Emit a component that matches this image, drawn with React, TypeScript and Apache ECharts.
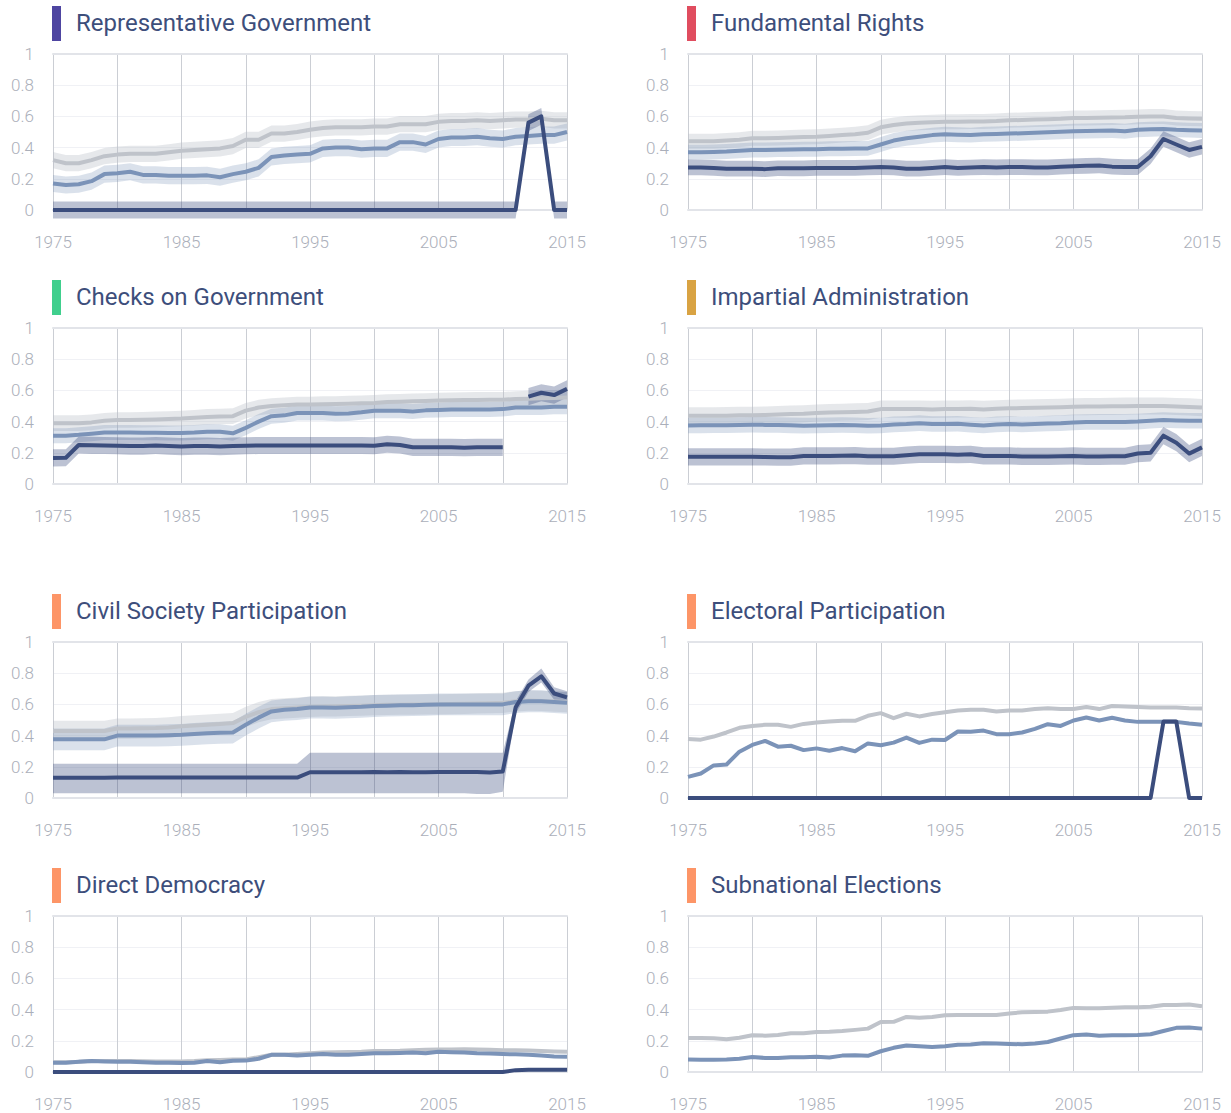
import React, { useEffect, useRef } from "react";
import * as echarts from "echarts";

const years: number[] = [];
for (let y = 1975; y <= 2015; y++) years.push(y);

const xTickLabels = ["1975", "1985", "1995", "2005", "2015"];

// Representative Government
const repGovGrey = [.32,.30,.30,.32,.345,.355,.36,.36,.36,.37,.38,.385,.39,.395,.41,.45,.45,.49,.49,.50,.515,.525,.53,.53,.53,.535,.535,.55,.55,.55,.565,.57,.57,.575,.57,.575,.58,.58,.585,.575,.575];
const repGovMed = [.17,.16,.165,.185,.23,.235,.245,.225,.225,.22,.22,.22,.222,.21,.23,.245,.27,.34,.35,.355,.36,.395,.40,.40,.39,.395,.395,.435,.435,.42,.455,.465,.465,.47,.46,.455,.47,.475,.48,.48,.50];
const repGovDark = [0,0,0,0,0,0,0,0,0,0,0,0,0,0,0,0,0,0,0,0,0,0,0,0,0,0,0,0,0,0,0,0,0,0,0,0,0,.56,.60,0,0];
const repGovErr = [.052, .055, .054];

// Fundamental Rights
const fundGrey = [.44,.44,.44,.445,.45,.46,.46,.462,.465,.468,.47,.475,.48,.485,.495,.53,.545,.555,.56,.562,.565,.566,.567,.568,.57,.575,.577,.58,.582,.585,.59,.59,.592,.593,.594,.597,.60,.60,.59,.587,.585];
const fundMed = [.37,.37,.372,.375,.38,.385,.385,.387,.388,.39,.39,.392,.393,.394,.395,.42,.445,.46,.47,.48,.485,.483,.48,.485,.487,.49,.492,.495,.498,.502,.505,.507,.508,.51,.505,.515,.518,.52,.515,.512,.51];
const fundDark = [.273,.272,.27,.265,.265,.265,.262,.268,.267,.267,.27,.27,.27,.27,.272,.275,.272,.265,.265,.27,.275,.27,.272,.275,.273,.275,.275,.273,.273,.277,.28,.283,.285,.278,.275,.275,.345,.455,.42,.385,.405];
const fundErr = [.048, .048, .05];

// Checks on Government
const checksGrey = [.39,.39,.39,.395,.405,.41,.41,.412,.414,.417,.42,.425,.43,.433,.435,.47,.49,.50,.505,.51,.51,.512,.513,.515,.517,.52,.525,.527,.53,.532,.535,.537,.538,.539,.54,.54,.545,.547,.55,.552,.555];
const checksMed = [.31,.31,.315,.322,.33,.33,.33,.328,.328,.327,.327,.33,.335,.335,.325,.36,.40,.435,.44,.455,.455,.455,.45,.452,.46,.47,.47,.47,.465,.472,.475,.477,.478,.478,.478,.48,.49,.49,.49,.495,.495];
const checksDark = [.167,.168,.25,.248,.247,.245,.243,.243,.247,.243,.24,.243,.243,.24,.243,.245,.247,.247,.247,.247,.247,.247,.247,.247,.247,.245,.255,.25,.235,.235,.235,.235,.233,.235,.235,.235,null,.56,.585,.57,.61];
const checksErr = [.05, .048, .055];

// Impartial Administration
const impGrey = [.437,.437,.437,.438,.44,.44,.442,.445,.448,.45,.455,.458,.46,.462,.465,.48,.48,.48,.48,.478,.48,.481,.482,.478,.482,.485,.487,.489,.49,.492,.495,.496,.497,.498,.499,.50,.50,.50,.497,.494,.49];
const impMed = [.375,.376,.377,.377,.378,.38,.379,.378,.376,.374,.375,.377,.378,.377,.373,.375,.382,.385,.39,.385,.385,.386,.38,.375,.382,.385,.382,.385,.388,.39,.395,.397,.398,.398,.398,.40,.405,.41,.407,.405,.405];
const impDark = [.174,.174,.174,.174,.174,.174,.173,.172,.172,.18,.18,.18,.181,.182,.178,.178,.178,.185,.19,.19,.19,.188,.19,.18,.18,.18,.177,.177,.177,.178,.18,.177,.177,.178,.178,.195,.20,.31,.265,.195,.235];
const impErr = [.055, .05, .055];

// Civil Society Participation
const civGrey = [.43,.43,.43,.43,.43,.445,.445,.447,.448,.452,.46,.465,.47,.475,.48,.52,.55,.57,.575,.58,.585,.587,.588,.59,.592,.595,.597,.598,.599,.60,.60,.602,.604,.606,.608,.61,.62,.625,.622,.618,.615];
const civMed = [.376,.376,.376,.376,.376,.40,.40,.40,.40,.402,.405,.41,.415,.418,.42,.47,.515,.555,.565,.57,.58,.58,.578,.582,.585,.59,.592,.594,.595,.597,.60,.60,.60,.60,.60,.60,.615,.62,.62,.615,.61];
const civDark = [.13,.13,.13,.13,.13,.132,.132,.132,.132,.132,.132,.131,.131,.131,.132,.132,.132,.131,.131,.131,.165,.165,.165,.165,.165,.166,.165,.166,.165,.165,.166,.166,.166,.166,.163,.17,.58,.72,.78,.67,.645];
const civDarkLo = [.03,.03,.03,.03,.03,.03,.03,.03,.03,.03,.03,.03,.03,.03,.03,.03,.03,.03,.03,.03,.03,.03,.03,.03,.03,.03,.03,.03,.03,.03,.03,.03,.03,.025,.025,.04,.54,.68,.74,.63,.605];
const civDarkHi = [.22,.22,.22,.22,.22,.22,.22,.22,.22,.22,.22,.22,.22,.22,.22,.22,.22,.22,.22,.22,.29,.29,.29,.29,.29,.29,.29,.29,.29,.29,.29,.29,.29,.29,.29,.29,.62,.76,.83,.71,.685];
const civErr = [.065, .07];

// Electoral Participation
const elecGrey = [.378,.374,.394,.42,.45,.462,.469,.469,.456,.475,.484,.49,.495,.495,.527,.544,.512,.54,.523,.538,.55,.561,.565,.565,.555,.561,.561,.57,.575,.57,.57,.583,.57,.59,.587,.583,.58,.58,.58,.575,.573];
const elecMed = [.135,.157,.209,.215,.297,.34,.366,.329,.335,.307,.318,.303,.32,.30,.35,.338,.355,.387,.353,.374,.372,.426,.424,.432,.409,.409,.42,.443,.473,.462,.497,.516,.497,.514,.497,.488,.488,.488,.488,.477,.47];
const elecDark = [0,0,0,0,0,0,0,0,0,0,0,0,0,0,0,0,0,0,0,0,0,0,0,0,0,0,0,0,0,0,0,0,0,0,0,0,0,.49,.49,0,0];

// Direct Democracy
const directGrey = [.062,.062,.065,.07,.07,.07,.07,.069,.068,.068,.067,.07,.075,.077,.08,.08,.095,.11,.11,.115,.12,.125,.127,.128,.13,.135,.135,.136,.14,.142,.145,.145,.146,.145,.143,.14,.14,.138,.135,.132,.13];
const directMed = [.06,.06,.065,.07,.068,.065,.065,.062,.06,.06,.058,.06,.07,.062,.072,.073,.085,.11,.11,.105,.11,.115,.11,.11,.115,.12,.12,.122,.125,.12,.13,.127,.125,.12,.118,.115,.113,.11,.105,.10,.098];
const directDark = [0,0,0,0,0,0,0,0,0,0,0,0,0,0,0,0,0,0,0,0,0,0,0,0,0,0,0,0,0,0,0,0,0,0,0,0,.012,.015,.015,.015,.015];

// Subnational Elections
const subGrey = [.218,.218,.217,.21,.22,.236,.233,.237,.248,.248,.257,.258,.263,.27,.278,.32,.322,.353,.348,.352,.364,.366,.365,.366,.366,.375,.383,.385,.387,.398,.411,.408,.408,.412,.415,.415,.418,.43,.43,.432,.422];
const subMed = [.08,.079,.079,.08,.085,.096,.09,.09,.094,.095,.097,.093,.105,.107,.104,.133,.155,.17,.165,.16,.165,.175,.176,.185,.183,.18,.178,.183,.192,.215,.236,.24,.232,.235,.235,.237,.242,.263,.283,.285,.278];

const GREY = "#bfc3ca";
const GREY_BAND = "rgba(185,190,199,0.36)";
const MED = "#7b93b8";
const MED_BAND = "rgba(123,147,184,0.28)";
const DARK = "#3b4d7d";
const DARK_BAND = "rgba(59,77,125,0.34)";

type Band = { lo: (number | null)[]; hi: (number | null)[]; color: string };
type Panel = {
  title: string;
  accent: string;
  lines: { data: (number | null)[]; color: string }[];
  bands: Band[];
};

const sym = (mid: (number | null)[], e: number, color: string): Band => ({
  lo: mid.map((v) => (v == null ? null : v - e)),
  hi: mid.map((v) => (v == null ? null : v + e)),
  color,
});

const panels: Panel[] = [
  {
    title: "Representative Government", accent: "#4e45a1",
    lines: [{ data: repGovGrey, color: GREY }, { data: repGovMed, color: MED }, { data: repGovDark, color: DARK }],
    bands: [sym(repGovGrey, repGovErr[0], GREY_BAND), sym(repGovMed, repGovErr[1], MED_BAND), sym(repGovDark, repGovErr[2], DARK_BAND)],
  },
  {
    title: "Fundamental Rights", accent: "#e04d5f",
    lines: [{ data: fundGrey, color: GREY }, { data: fundMed, color: MED }, { data: fundDark, color: DARK }],
    bands: [sym(fundGrey, fundErr[0], GREY_BAND), sym(fundMed, fundErr[1], MED_BAND), sym(fundDark, fundErr[2], DARK_BAND)],
  },
  {
    title: "Checks on Government", accent: "#40cf8d",
    lines: [{ data: checksGrey, color: GREY }, { data: checksMed, color: MED }, { data: checksDark, color: DARK }],
    bands: [sym(checksGrey, checksErr[0], GREY_BAND), sym(checksMed, checksErr[1], MED_BAND), sym(checksDark, checksErr[2], DARK_BAND)],
  },
  {
    title: "Impartial Administration", accent: "#d9a343",
    lines: [{ data: impGrey, color: GREY }, { data: impMed, color: MED }, { data: impDark, color: DARK }],
    bands: [sym(impGrey, impErr[0], GREY_BAND), sym(impMed, impErr[1], MED_BAND), sym(impDark, impErr[2], DARK_BAND)],
  },
  {
    title: "Civil Society Participation", accent: "#fd9567",
    lines: [{ data: civGrey, color: GREY }, { data: civMed, color: MED }, { data: civDark, color: DARK }],
    bands: [sym(civGrey, civErr[0], GREY_BAND), sym(civMed, civErr[1], MED_BAND), { lo: civDarkLo, hi: civDarkHi, color: DARK_BAND }],
  },
  {
    title: "Electoral Participation", accent: "#fd9567",
    lines: [{ data: elecGrey, color: GREY }, { data: elecMed, color: MED }, { data: elecDark, color: DARK }],
    bands: [],
  },
  {
    title: "Direct Democracy", accent: "#fd9567",
    lines: [{ data: directGrey, color: GREY }, { data: directMed, color: MED }, { data: directDark, color: DARK }],
    bands: [],
  },
  {
    title: "Subnational Elections", accent: "#fd9567",
    lines: [{ data: subGrey, color: GREY }, { data: subMed, color: MED }],
    bands: [],
  },
];

const COL_LEFT = [53, 688];
const ROW_TOP = [54, 328, 642, 916];
const PLOT_W = 514;
const PLOT_H = 156;
const W = 1231;
const H = 1113;

function buildOption() {
  const grid: any[] = [];
  const xAxis: any[] = [];
  const xAxisTop: any[] = [];
  const yAxis: any[] = [];
  const series: any[] = [];
  const graphic: any[] = [];

  panels.forEach((p, i) => {
    const col = i % 2;
    const row = Math.floor(i / 2);
    const left = COL_LEFT[col];
    const top = ROW_TOP[row];
    grid.push({ left, top, width: PLOT_W, height: PLOT_H, containLabel: false });
    xAxis.push({
      type: "value", gridIndex: i, min: 1975, max: 2015, interval: 5,
      axisLine: { show: true, lineStyle: { color: "#e2e4e9", width: 2 } },
      axisTick: { show: false },
      axisLabel: {
        margin: 23, color: "#abafba", fontSize: 17, fontFamily: "Roboto", fontWeight: 300,
        showMinLabel: true, showMaxLabel: true,
        formatter: (v: number) => (xTickLabels.includes(String(v)) ? String(v) : ""),
      },
      splitLine: { show: true, lineStyle: { color: "#cbced4", width: 1 } },
    });
    xAxisTop.push({
      type: "value", gridIndex: i, min: 1975, max: 2015, position: "top",
      axisLine: { show: true, onZero: false, lineStyle: { color: "#e2e4e9", width: 2 } },
      axisTick: { show: false }, axisLabel: { show: false }, splitLine: { show: false },
    });
    yAxis.push({
      type: "value", gridIndex: i, min: 0, max: 1, interval: 0.2,
      axisLine: { show: false }, axisTick: { show: false },
      axisLabel: { margin: 19, color: "#abafba", fontSize: 17, fontFamily: "Roboto", fontWeight: 300 },
      splitLine: { show: true, lineStyle: { color: "#f0f1f5", width: 1 } },
    });

    graphic.push({
      type: "rect", shape: { x: left - 1, y: top - 48, width: 9, height: 35 },
      style: { fill: p.accent }, silent: true,
    });
    graphic.push({
      type: "text", x: left + 23, y: top - 31,
      style: { text: p.title, fill: "#3d4e7b", fontSize: 24, fontFamily: "Roboto", fontWeight: 400, verticalAlign: "middle", align: "left" },
      silent: true,
    });

    p.lines.forEach((ln, k) => {
      const band = p.bands[k];
      if (band) {
        series.push({
          type: "custom", xAxisIndex: i, yAxisIndex: i, silent: true, clip: false,
          data: [[1975, 0]], encode: { x: 0, y: 1 },
          renderItem: (params: any, api: any) => {
            if (params.dataIndex !== 0) return null;
            const segs: number[][] = [];
            let cur: number[] = [];
            years.forEach((_, j) => {
              if (band.lo[j] == null || band.hi[j] == null) {
                if (cur.length) segs.push(cur);
                cur = [];
              } else cur.push(j);
            });
            if (cur.length) segs.push(cur);
            return {
              type: "group",
              children: segs.map((seg) => {
                const topPts = seg.map((j) => api.coord([years[j], band.hi[j]]));
                const botPts = seg.slice().reverse().map((j) => api.coord([years[j], band.lo[j]]));
                return { type: "polygon", shape: { points: topPts.concat(botPts) }, style: { fill: band.color } };
              }),
            };
          },
        });
      }
      series.push({
        type: "line", xAxisIndex: i, yAxisIndex: i, silent: true, clip: false,
        showSymbol: false, symbol: "none", connectNulls: false,
        data: years.map((y, j) => [y, ln.data[j]]),
        lineStyle: { color: ln.color, width: 4, join: "round", cap: "butt" },
      });
    });
  });

  return {
    animation: false,
    backgroundColor: "#ffffff",
    grid,
    xAxis: xAxis.concat(xAxisTop),
    yAxis,
    series,
    graphic,
  };
}

export default function App() {
  const ref = useRef<HTMLDivElement>(null);
  useEffect(() => {
    if (!ref.current) return;
    const chart = echarts.init(ref.current, undefined, { renderer: "svg" });
    chart.setOption(buildOption() as any);
    return () => chart.dispose();
  }, []);
  return <div ref={ref} style={{ position: "absolute", left: 0, top: 0, width: W, height: H }} />;
}
